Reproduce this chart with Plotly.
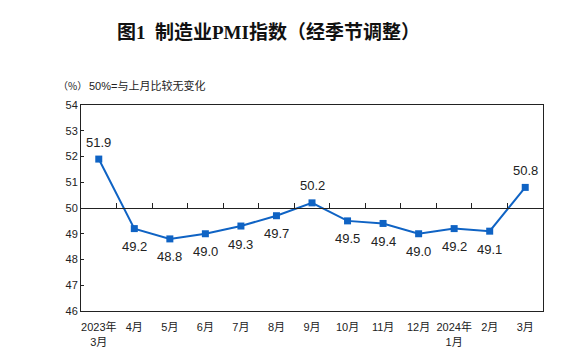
import plotly.graph_objects as go

categories = ["2023年<br>3月", "4月", "5月", "6月", "7月", "8月", "9月",
              "10月", "11月", "12月", "2024年<br>1月", "2月", "3月"]
pmi = [51.9, 49.2, 48.8, 49.0, 49.3, 49.7, 50.2, 49.5, 49.4, 49.0, 49.2, 49.1, 50.8]
label_above = [True, False, False, False, False, False, True, False, False, False, False, False, True]
y_ticks = [46, 47, 48, 49, 50, 51, 52, 53, 54]

LINE = "#0F63C4"
NARROW = "Liberation Sans Narrow, Arial Narrow, Liberation Sans, Noto Sans CJK SC"
xs = list(range(len(categories)))

fig = go.Figure()
fig.add_trace(go.Scatter(
    x=xs, y=pmi, mode="lines+markers",
    line=dict(color=LINE, width=2),
    marker=dict(symbol="square", size=7, color=LINE),
    hoverinfo="skip", showlegend=False,
))
# dummy trace for the 50-line axis
fig.add_trace(go.Scatter(x=xs, y=pmi, xaxis="x2", mode="none", showlegend=False, hoverinfo="skip"))

for x, v, up in zip(xs, pmi, label_above):
    fig.add_annotation(
        x=x, y=v, text=f"{v:.1f}", showarrow=False,
        yshift=17 if up else -18,
        font=dict(family=NARROW, size=13, color="#222222"),
    )

fig.add_annotation(
    xref="paper", yref="paper", x=0.405, y=1.35, yanchor="middle",
    text="<b>图1  制造业PMI指数（经季节调整）</b>", showarrow=False,
    font=dict(family="Liberation Serif, Noto Sans CJK SC", size=19, color="#111111"),
)
fig.add_annotation(
    xref="paper", yref="paper", x=-0.055, y=1.097, xanchor="left", yanchor="middle",
    text="（%）", showarrow=False,
    font=dict(family="Noto Sans CJK SC", size=10, color="#222222"),
)
fig.add_annotation(
    xref="paper", yref="paper", x=0.012, y=1.097, xanchor="left", yanchor="middle",
    text="50%=与上月比较无变化", showarrow=False,
    font=dict(family=NARROW, size=11, color="#222222"),
)

fig.update_layout(
    width=584, height=353,
    margin=dict(l=81, r=41, t=105, b=42, autoexpand=False),
    paper_bgcolor="white", plot_bgcolor="white",
    xaxis=dict(
        range=[-0.5, len(categories) - 0.5], automargin=False,
        tickmode="array", tickvals=xs, ticktext=categories,
        showline=True, linecolor="#222222", linewidth=1, mirror=True,
        showgrid=False, zeroline=False, ticks="", ticklabelstandoff=6,
        tickfont=dict(family=NARROW, size=11, color="#222222"),
    ),
    xaxis2=dict(
        overlaying="x", anchor="free", position=0.5, side="bottom",
        range=[-0.5, len(categories) - 0.5], automargin=False,
        tickmode="array", tickvals=[i + 0.5 for i in xs[:-1]],
        showticklabels=False, ticks="inside", ticklen=5, tickcolor="#222222",
        showline=True, linecolor="#222222", linewidth=1,
        showgrid=False, zeroline=False,
    ),
    yaxis=dict(
        range=[46, 54], tickmode="array", tickvals=y_ticks, automargin=False,
        showline=True, linecolor="#222222", linewidth=1, mirror=True,
        showgrid=False, zeroline=False, ticks="inside", ticklen=3, tickcolor="#222222",
        tickfont=dict(family=NARROW, size=11, color="#222222"),
    ),
)

fig.write_html("out.html")
